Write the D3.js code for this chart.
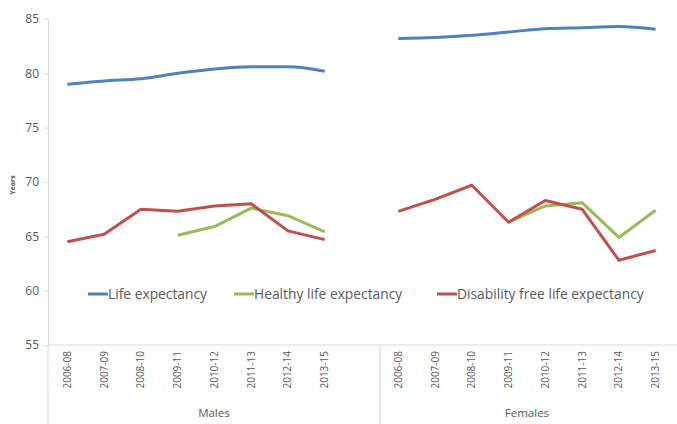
<!DOCTYPE html>
<html>
<head>
<meta charset="utf-8">
<script src="https://cdn.jsdelivr.net/npm/d3@7"></script>
<style>
  body { margin: 0; background: #fff; }
  text { font-family: "Open Sans", Lato, sans-serif; fill: #595959; }
</style>
</head>
<body>
<div id="chart"></div>
<script>
var width = 677, height = 424;

// data
var periods = ["2006-08", "2007-09", "2008-10", "2009-11", "2010-12", "2011-13", "2012-14", "2013-15"];
var groups = ["Males", "Females"];
var maleLife = [79.0, 79.3, 79.5, 80.0, 80.4, 80.6, 80.6, 80.2];
var maleHealthy = [null, null, null, 65.1, 65.9, 67.6, 66.9, 65.4];
var maleDisability = [64.5, 65.2, 67.5, 67.3, 67.8, 68.0, 65.5, 64.7];
var femaleLife = [83.2, 83.3, 83.5, 83.8, 84.1, 84.2, 84.3, 84.05];
var femaleHealthy = [null, null, null, 66.3, 67.8, 68.1, 64.9, 67.4];
var femaleDisability = [67.3, 68.4, 69.7, 66.3, 68.3, 67.5, 62.8, 63.7];
var yTicks = [55, 60, 65, 70, 75, 80, 85];
var seriesNames = ["Life expectancy", "Healthy life expectancy", "Disability free life expectancy"];
var colors = ["#4f81bd", "#9bbb59", "#c0504d"];

// 17 slots: 8 male periods, one empty slot, 8 female periods
var keys = periods.map(p => "M|" + p).concat(["M|"]).concat(periods.map(p => "F|" + p));

var plotLeft = 48, plotRight = 674, plotTop = 19, plotBottom = 345;

var svg = d3.select("#chart").append("svg").attr("width", width).attr("height", height);

var x = d3.scaleBand().domain(keys).range([plotLeft + 1, plotRight]);
var y = d3.scaleLinear().domain([55, 85]).range([plotBottom, plotTop]);

var series = [
  {name: seriesNames[0], color: colors[0], curve: d3.curveMonotoneX, m: maleLife, f: femaleLife},
  {name: seriesNames[1], color: colors[1], curve: d3.curveLinear, m: maleHealthy, f: femaleHealthy},
  {name: seriesNames[2], color: colors[2], curve: d3.curveLinear, m: maleDisability, f: femaleDisability}
];

// y axis
var yAxis = svg.append("g").attr("transform", "translate(" + plotLeft + ",0)")
  .call(d3.axisLeft(y).tickValues(yTicks).tickSize(4).tickPadding(5));
yAxis.select(".domain").attr("stroke", "#d9d9d9");
yAxis.selectAll(".tick line").attr("stroke", "#d9d9d9");
yAxis.selectAll(".tick text").style("font-size", "12px").attr("fill", "#595959")
  .style("font-family", "'Open Sans', sans-serif");

svg.append("text").attr("transform", "translate(15,185) rotate(-90)")
  .attr("text-anchor", "middle").style("font-size", "7px").style("font-weight", "bold")
  .attr("fill", "#404040").text("Years");

// x axis line and group dividers
svg.append("line").attr("x1", plotLeft).attr("x2", width).attr("y1", plotBottom).attr("y2", plotBottom)
  .attr("stroke", "#d9d9d9");
var divX = x("F|" + periods[0]);
[plotLeft, divX].forEach(function(px) {
  svg.append("line").attr("x1", px).attr("x2", px).attr("y1", plotBottom).attr("y2", height)
    .attr("stroke", "#d9d9d9");
});

// period labels
svg.append("g").selectAll("text").data(keys.filter(k => k.split("|")[1] !== ""))
  .join("text")
  .attr("transform", d => "translate(" + (x(d) + x.bandwidth() / 2 + 3.5) + ",351) rotate(-90)")
  .attr("text-anchor", "end").style("font-size", "10px")
  .text(d => d.split("|")[1]);

// group labels
var groupSpan = [[plotLeft, divX], [divX, plotRight]];
svg.append("g").selectAll("text").data(groups).join("text")
  .attr("x", (d, i) => (groupSpan[i][0] + groupSpan[i][1]) / 2).attr("y", 417)
  .attr("text-anchor", "middle").style("font-size", "11.5px").text(d => d);

// lines
series.forEach(function(s) {
  var line = d3.line().defined(d => d.v !== null)
    .x(d => x(d.k) + x.bandwidth() / 2).y(d => y(d.v)).curve(s.curve);
  [["M|", s.m], ["F|", s.f]].forEach(function(g) {
    var pts = periods.map((p, i) => ({k: g[0] + p, v: g[1][i]}));
    svg.append("path").datum(pts).attr("d", line)
      .attr("fill", "none").attr("stroke", s.color).attr("stroke-width", 3)
      .attr("stroke-linejoin", "round");
  });
});

// legend
var legendX = [88, 234, 437];
var legend = svg.append("g").selectAll("g").data(series).join("g")
  .attr("transform", (d, i) => "translate(" + legendX[i] + ",294)");
legend.append("line").attr("x1", 0).attr("x2", 20).attr("stroke", d => d.color).attr("stroke-width", 3);
legend.append("text").attr("x", 20).attr("y", 4.8).style("font-size", "13.8px").text(d => d.name);
</script>
</body>
</html>
